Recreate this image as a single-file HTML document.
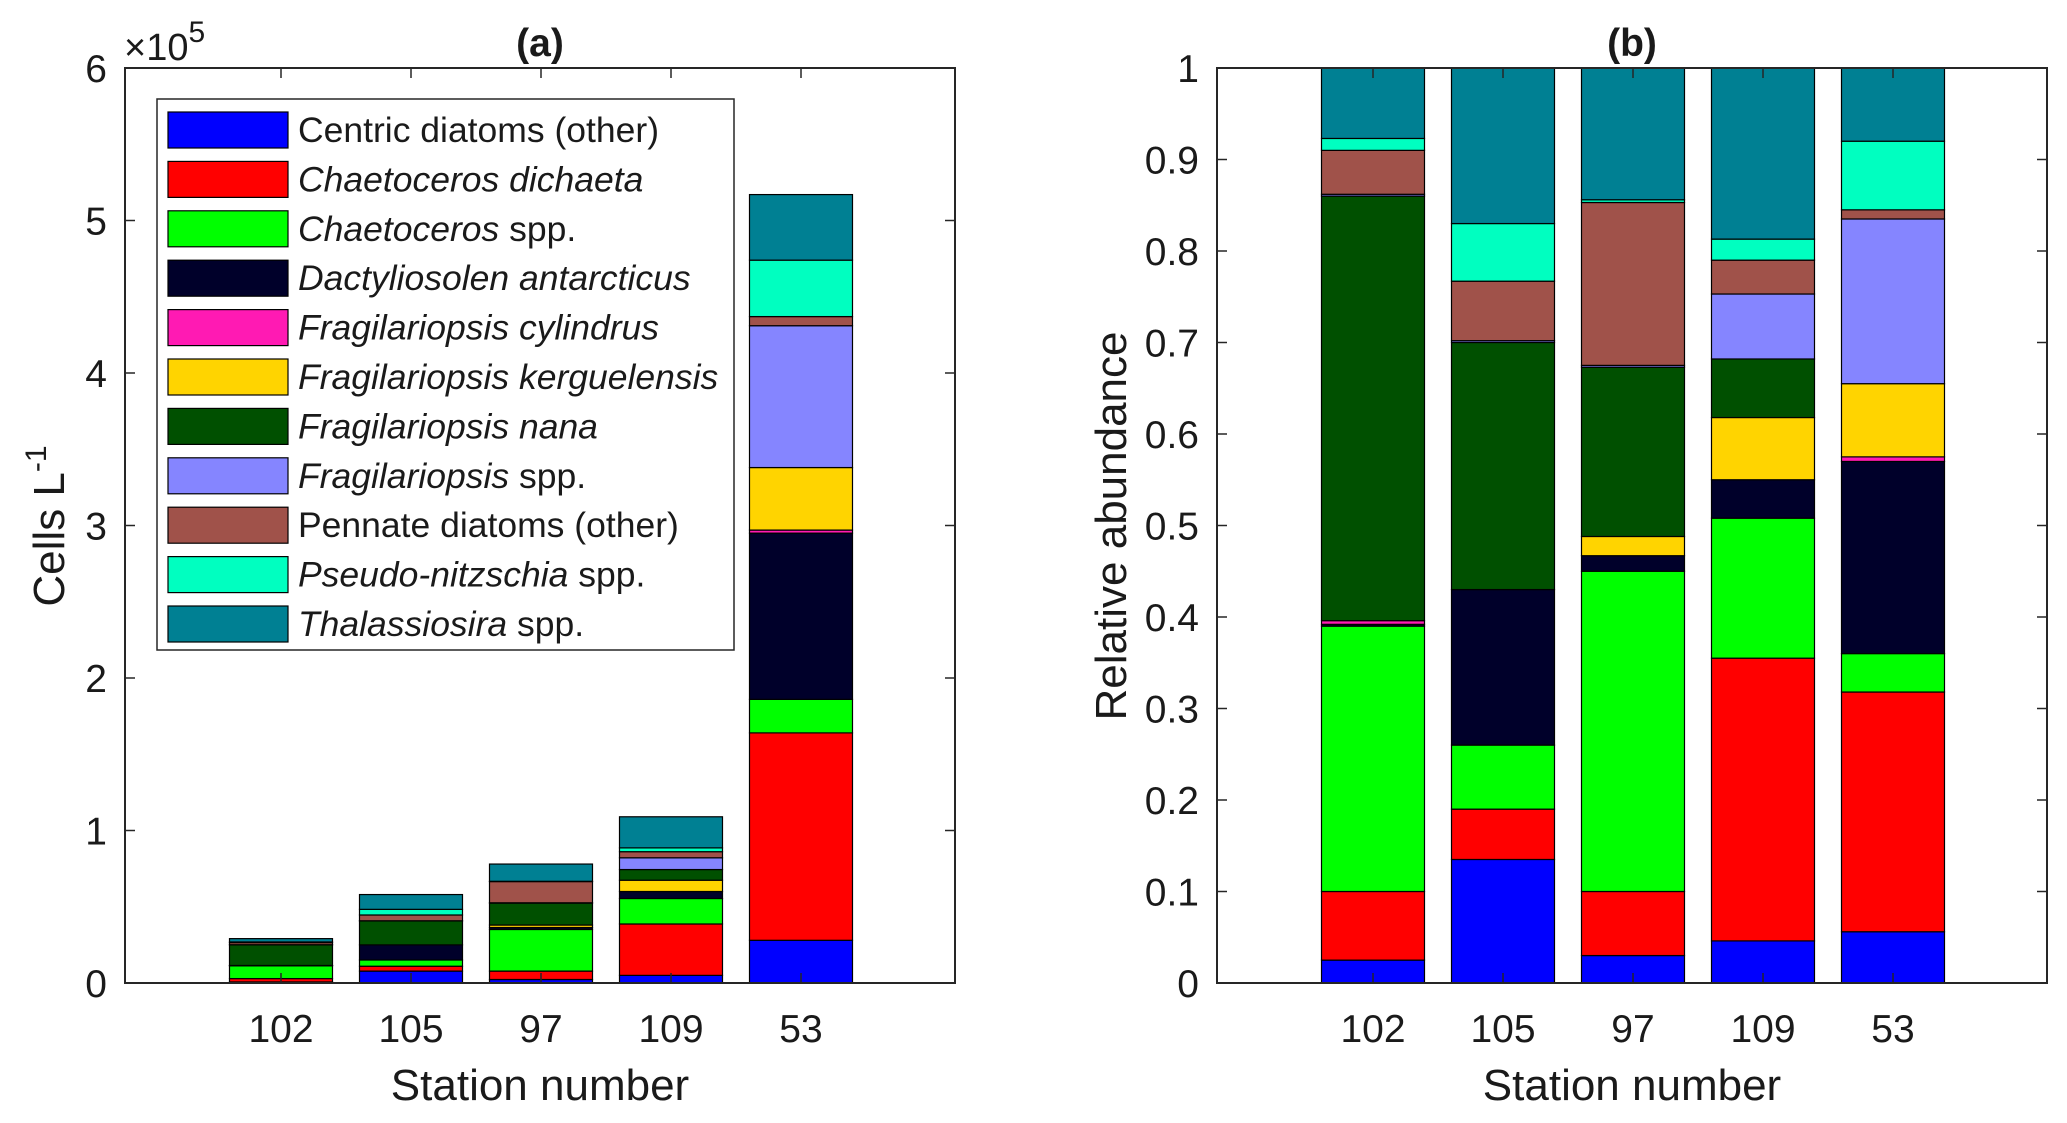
<!DOCTYPE html>
<html><head><meta charset="utf-8"><style>
body{margin:0;background:#fff;}
svg text{font-family:"Liberation Sans",Arial,sans-serif;fill:#1a1a1a;}
</style></head><body>
<svg id="chart" width="2067" height="1118" viewBox="0 0 2067 1118" xmlns="http://www.w3.org/2000/svg"></svg>
<script>
const stations = ["102","105","97","109","53"];
const species = ["Centric diatoms (other)","Chaetoceros dichaeta","Chaetoceros spp.","Dactyliosolen antarcticus","Fragilariopsis cylindrus","Fragilariopsis kerguelensis","Fragilariopsis nana","Fragilariopsis spp.","Pennate diatoms (other)","Pseudo-nitzschia spp.","Thalassiosira spp."];
const colors = ["#0000ff","#ff0000","#00ff00","#00002a","#ff1ab3","#ffd400","#005000","#8585ff","#a0524a","#00ffc0","#008093"];
// Panel (a) cells per litre (x1e5), per station, stacked in species order
const cells102 = [0.007,0.022,0.084,0.001,0.001,0,0.135,0.001,0.014,0.004,0.022];
const cells105 = [0.078,0.032,0.041,0.099,0,0,0.157,0.001,0.038,0.037,0.097];
const cells97  = [0.023,0.055,0.273,0.013,0,0.016,0.144,0.002,0.139,0.002,0.113];
const cells109 = [0.05,0.337,0.167,0.046,0,0.074,0.07,0.077,0.04,0.025,0.204];
const cells53  = [0.28,1.36,0.22,1.09,0.02,0.41,0,0.93,0.06,0.37,0.43];
// Panel (b) relative abundance
const rel102 = [0.025,0.075,0.29,0.002,0.004,0,0.464,0.002,0.048,0.013,0.077];
const rel105 = [0.135,0.055,0.07,0.17,0,0,0.27,0.002,0.065,0.063,0.17];
const rel97  = [0.03,0.07,0.35,0.017,0,0.021,0.185,0.002,0.178,0.003,0.144];
const rel109 = [0.046,0.309,0.153,0.042,0,0.068,0.064,0.071,0.037,0.023,0.187];
const rel53  = [0.056,0.262,0.042,0.21,0.005,0.08,0,0.18,0.01,0.075,0.08];
const ticksA = [0,1,2,3,4,5,6];
const ticksB = [0,0.1,0.2,0.3,0.4,0.5,0.6,0.7,0.8,0.9,1];
const tickLabelsB = ["0","0.1","0.2","0.3","0.4","0.5","0.6","0.7","0.8","0.9","1"];

const NS="http://www.w3.org/2000/svg";
const svg=document.getElementById('chart');
function mk(tag,attrs,parent){const e=document.createElementNS(NS,tag);for(const k in attrs)e.setAttribute(k,attrs[k]);(parent||svg).appendChild(e);return e;}

function panel(opt){
  const {L,R,T,B,ymax,data,ticks,labels,id}=opt;
  const g=mk('g',{});
  
  
  const y=v=>B-(v/ymax)*(B-T);
  const x=i=>L+156+130*i;
  const bw=103;
  data.forEach((vals,i)=>{
    let cum=0;
    vals.forEach((v,k)=>{
      const y0=y(cum),y1=y(cum+v);cum+=v;
      const r=mk('rect',{x:x(i)-bw/2,y:y1,width:bw,height:Math.max(0,y0-y1),fill:colors[k],stroke:'#000','stroke-width':1.2},g);
      
      
    });
  });
  mk('rect',{x:L,y:T,width:R-L,height:B-T,fill:'none',stroke:'#262626','stroke-width':2},g);
  ticks.forEach((t,j)=>{
    const yy=y(t);
    mk('line',{x1:L,x2:L+10,y1:yy,y2:yy,stroke:'#262626','stroke-width':1.5},g);
    mk('line',{x1:R,x2:R-10,y1:yy,y2:yy,stroke:'#262626','stroke-width':1.5},g);
    const tx=mk('text',{x:L-18,y:yy+14,'text-anchor':'end','font-size':39},g);
    tx.textContent=labels[j];
    
    
  });
  stations.forEach((s,i)=>{
    mk('line',{x1:x(i),x2:x(i),y1:B,y2:B-10,stroke:'#262626','stroke-width':1.5},g);
    mk('line',{x1:x(i),x2:x(i),y1:T,y2:T+10,stroke:'#262626','stroke-width':1.5},g);
    const tx=mk('text',{x:x(i),y:1042,'text-anchor':'middle','font-size':39},g);
    tx.textContent=s;
    
    
  });
  const xl=mk('text',{x:(L+R)/2,y:1100,'text-anchor':'middle','font-size':44},g);
  xl.textContent='Station number';
  
  
  return {x,y};
}

panel({L:125,R:955,T:68,B:983,ymax:6,data:[cells102,cells105,cells97,cells109,cells53],ticks:ticksA,labels:ticksA.map(String),id:'a'});
panel({L:1217,R:2047,T:68,B:983,ymax:1,data:[rel102,rel105,rel97,rel109,rel53],ticks:ticksB,labels:tickLabelsB,id:'b'});

// titles
let t=mk('text',{x:540,y:56,'text-anchor':'middle','font-size':39,'font-weight':'bold'});t.textContent='(a)';


t=mk('text',{x:1632,y:56,'text-anchor':'middle','font-size':39,'font-weight':'bold'});t.textContent='(b)';


// exponent
t=mk('text',{x:124,y:60,'font-size':38});t.innerHTML='×10<tspan dy="-18" font-size="30">5</tspan>';


// y labels
t=mk('text',{transform:'translate(64,526) rotate(-90)','text-anchor':'middle','font-size':44});t.innerHTML='Cells L<tspan dy="-18" font-size="30">-1</tspan>';


t=mk('text',{transform:'translate(1126,526) rotate(-90)','text-anchor':'middle','font-size':44});t.textContent='Relative abundance';



// legend
const lg=mk('g',{});


mk('rect',{x:157,y:99,width:577,height:551,fill:'#fff',stroke:'#262626','stroke-width':1.5},lg);
const legendHtml=["Centric diatoms (other)","<tspan font-style='italic'>Chaetoceros dichaeta</tspan>","<tspan font-style='italic'>Chaetoceros</tspan> spp.","<tspan font-style='italic'>Dactyliosolen antarcticus</tspan>","<tspan font-style='italic'>Fragilariopsis cylindrus</tspan>","<tspan font-style='italic'>Fragilariopsis kerguelensis</tspan>","<tspan font-style='italic'>Fragilariopsis nana</tspan>","<tspan font-style='italic'>Fragilariopsis</tspan> spp.","Pennate diatoms (other)","<tspan font-style='italic'>Pseudo-nitzschia</tspan> spp.","<tspan font-style='italic'>Thalassiosira</tspan> spp."];
species.forEach((s,k)=>{
  const cy=130+49.4*k;
  const sw=mk('rect',{x:168,y:cy-18,width:120,height:36,fill:colors[k],stroke:'#000','stroke-width':1.2},lg);
  
  
  const tx=mk('text',{x:298,y:cy+12,'font-size':35.5},lg);
  tx.innerHTML=legendHtml[k];
  
  
});
</script>
</body></html>
